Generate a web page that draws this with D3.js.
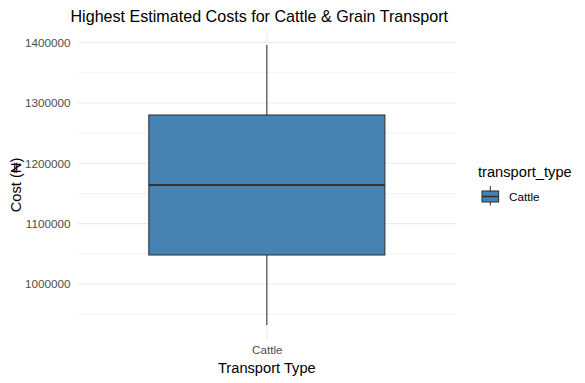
<!DOCTYPE html>
<html>
<head>
<meta charset="utf-8">
<script src="https://cdn.jsdelivr.net/npm/d3@7"></script>
<style>
  body { margin: 0; background: #fff; }
  svg { display: block; font-family: "Liberation Sans", Arial, sans-serif; }
</style>
</head>
<body>
<svg id="chart" width="585" height="383"></svg>
<script>
const categories = ["Cattle"];
const whiskerLow = [932000];
const q1Values = [1048000];
const medianValues = [1164000];
const q3Values = [1280000];
const whiskerHigh = [1396000];
const yTicks = [1000000, 1100000, 1200000, 1300000, 1400000];
const yMinor = [950000, 1050000, 1150000, 1250000, 1350000];

const svg = d3.select("#chart");
const panel = { left: 78, right: 455.7, top: 31, bottom: 339 };

const dataMin = d3.min(whiskerLow), dataMax = d3.max(whiskerHigh);
const pad = (dataMax - dataMin) * 0.05;
const y = d3.scaleLinear().domain([dataMin - pad, dataMax + pad]).range([panel.bottom, panel.top]);
const x = d3.scaleLinear().domain([0.4, categories.length + 0.6]).range([panel.left, panel.right]);
const boxHalf = 0.375;
const fill = "#4682B4";
const stroke = "#333333";

// minor gridlines
svg.append("g").selectAll("line").data(yMinor).join("line")
  .attr("x1", panel.left).attr("x2", panel.right)
  .attr("y1", d => y(d)).attr("y2", d => y(d))
  .attr("stroke", "#ebebeb").attr("stroke-width", 0.6);
// major gridlines
svg.append("g").selectAll("line").data(yTicks).join("line")
  .attr("x1", panel.left).attr("x2", panel.right)
  .attr("y1", d => y(d)).attr("y2", d => y(d))
  .attr("stroke", "#ebebeb").attr("stroke-width", 1.07);
svg.append("g").selectAll("line").data(categories).join("line")
  .attr("x1", (d, i) => x(i + 1)).attr("x2", (d, i) => x(i + 1))
  .attr("y1", panel.top).attr("y2", panel.bottom)
  .attr("stroke", "#ebebeb").attr("stroke-width", 1.07);

// y axis labels
const yAxis = d3.axisLeft(y).tickValues(yTicks).tickSize(0).tickPadding(7.5).tickFormat(d3.format("d"));
const gy = svg.append("g").attr("transform", `translate(${panel.left},0)`).call(yAxis);
gy.select(".domain").remove();
gy.selectAll("text").attr("fill", "#4d4d4d").attr("font-size", "11.7px")
  .attr("font-family", "Liberation Sans, Arial, sans-serif");

// x axis labels
const xAxis = d3.axisBottom(x).tickValues(categories.map((d, i) => i + 1))
  .tickFormat((d) => categories[d - 1]).tickSize(0).tickPadding(7);
const gx = svg.append("g").attr("transform", `translate(0,${panel.bottom})`).call(xAxis);
gx.select(".domain").remove();
gx.selectAll("text").attr("fill", "#4d4d4d").attr("font-size", "11.7px")
  .attr("font-family", "Liberation Sans, Arial, sans-serif");

// boxes
const boxes = svg.append("g").selectAll("g").data(categories).join("g");
boxes.append("line")
  .attr("x1", (d, i) => x(i + 1)).attr("x2", (d, i) => x(i + 1))
  .attr("y1", (d, i) => y(whiskerHigh[i])).attr("y2", (d, i) => y(q3Values[i]))
  .attr("stroke", stroke).attr("stroke-width", 1.07);
boxes.append("line")
  .attr("x1", (d, i) => x(i + 1)).attr("x2", (d, i) => x(i + 1))
  .attr("y1", (d, i) => y(q1Values[i])).attr("y2", (d, i) => y(whiskerLow[i]))
  .attr("stroke", stroke).attr("stroke-width", 1.07);
boxes.append("rect")
  .attr("x", (d, i) => x(i + 1 - boxHalf))
  .attr("width", (d, i) => x(i + 1 + boxHalf) - x(i + 1 - boxHalf))
  .attr("y", (d, i) => y(q3Values[i]))
  .attr("height", (d, i) => y(q1Values[i]) - y(q3Values[i]))
  .attr("fill", fill).attr("stroke", stroke).attr("stroke-width", 1.07);
boxes.append("line")
  .attr("x1", (d, i) => x(i + 1 - boxHalf)).attr("x2", (d, i) => x(i + 1 + boxHalf))
  .attr("y1", (d, i) => y(medianValues[i])).attr("y2", (d, i) => y(medianValues[i]))
  .attr("stroke", stroke).attr("stroke-width", 2.1);

// title
svg.append("text").attr("x", 70.5).attr("y", 22)
  .attr("font-size", "16.1px").attr("fill", "#000")
  .text("Highest Estimated Costs for Cattle & Grain Transport");

// axis titles
svg.append("text").attr("x", (panel.left + panel.right) / 2).attr("y", 373)
  .attr("text-anchor", "middle").attr("font-size", "14.67px").attr("fill", "#000")
  .text("Transport Type");
svg.append("text")
  .attr("transform", `translate(20.5,${(panel.top + panel.bottom) / 2}) rotate(-90)`)
  .attr("text-anchor", "middle").attr("font-size", "14.67px").attr("fill", "#000")
  .text("Cost (₦)");

// legend
const lg = svg.append("g");
lg.append("text").attr("x", 478).attr("y", 177).attr("font-size", "14.67px").attr("fill", "#000")
  .text("transport_type");
const key = lg.append("g");
key.append("line").attr("x1", 490.3).attr("x2", 490.3).attr("y1", 186).attr("y2", 205.5)
  .attr("stroke", stroke).attr("stroke-width", 1.07);
key.append("rect").attr("x", 482).attr("y", 191).attr("width", 16.6).attr("height", 11)
  .attr("fill", fill).attr("stroke", stroke).attr("stroke-width", 1.07);
key.append("line").attr("x1", 482).attr("x2", 498.6).attr("y1", 196.5).attr("y2", 196.5)
  .attr("stroke", stroke).attr("stroke-width", 1.6);
lg.append("text").attr("x", 509).attr("y", 201).attr("font-size", "11.7px").attr("fill", "#000")
  .text(categories[0]);
</script>
</body>
</html>
